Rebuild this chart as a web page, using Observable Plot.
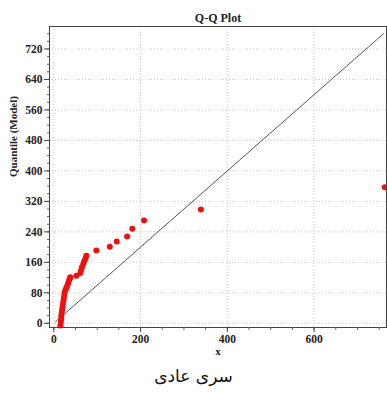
<!DOCTYPE html>
<html>
<head>
<meta charset="utf-8">
<script src="https://cdn.jsdelivr.net/npm/d3@7"></script>
<script src="https://cdn.jsdelivr.net/npm/@observablehq/plot@0.6"></script>
<style>
  html, body { margin: 0; padding: 0; background: #fff; }
  #chart svg { display: block; }
  #caption { width: 387px; text-align: center; font-family: "DejaVu Sans", "Noto Sans", sans-serif; font-size: 17px; color: #111; margin-top: 4px; direction: rtl; }
</style>
</head>
<body>
<div id="chart"></div>
<div id="caption">سری عادی</div>
<script>
// Empirical quantiles (x) vs model quantiles (y)
const xQuantile = [15,16,17,17,18,19,20,21,22,23,24,25,27,29,31,33,35,37,38,52,61,63,65,68,70,73,75,98,129,145,169,181,208,339,763];
const yModel    = [-6,2,10,18,26,34,42,50,58,66,74,82,88,93,99,105,112,118,121,125,132,140,148,156,163,170,177,191,201,215,228,248,270,299,357];
// Reference line y = x
const refLine = [4, 760];
const xTicks = [0, 200, 400, 600];
const yTicks = [0, 80, 160, 240, 320, 400, 480, 560, 640, 720];
const xMinorTicks = d3.range(0, 751, 50);
const yMinorTicks = d3.range(0, 761, 20);
const titleText = "Q-Q Plot";
const xLabel = "x";
const yLabel = "Quantile (Model)";

const points = xQuantile.map((x, i) => ({x, y: yModel[i]}));
const linePts = refLine.map(v => ({x: v, y: v}));

const serif = "'Liberation Serif', 'DejaVu Serif', serif";

const chart = Plot.plot({
  width: 387,
  height: 362,
  marginLeft: 49,
  marginRight: 1,
  marginTop: 26,
  marginBottom: 35,
  style: {fontFamily: serif, fontSize: "11px", fontWeight: "bold", color: "#222", background: "#fff"},
  x: {domain: [-10, 767]},
  y: {domain: [-11, 779]},
  marks: [
    Plot.gridX(xTicks, {stroke: "#bbb", strokeOpacity: 0.8, strokeDasharray: "1,2"}),
    Plot.gridY(yTicks, {stroke: "#bbb", strokeOpacity: 0.8, strokeDasharray: "1,2"}),
    Plot.line(linePts, {x: "x", y: "y", stroke: "#555", strokeWidth: 1}),
    Plot.dot(points, {x: "x", y: "y", r: 3, fill: "#f00f0f", stroke: "none"}),
    Plot.frame({stroke: "#444"}),
    Plot.axisX(xMinorTicks, {tickSize: 3, text: null, label: null, stroke: "#666"}),
    Plot.axisX(xTicks, {tickSize: 5, tickPadding: 2, label: null, stroke: "#444", fontWeight: "bold", fontSize: 11.5}),
    Plot.axisY(yMinorTicks, {tickSize: 2, text: null, label: null, stroke: "#666"}),
    Plot.axisY(yTicks, {tickSize: 5, tickPadding: 2, label: null, stroke: "#444", fontWeight: "bold", fontSize: 11.5}),
    Plot.text([titleText], {frameAnchor: "top", dy: -13, fontSize: 12, fontWeight: "bold", fill: "#222"}),
    Plot.text([xLabel], {frameAnchor: "bottom", dy: 27, fontSize: 11, fontWeight: "bold", fill: "#222"}),
    Plot.text([yLabel], {frameAnchor: "left", dx: -36, rotate: -90, fontSize: 11, fontWeight: "bold", fill: "#222"})
  ]
});
document.getElementById("chart").appendChild(chart);
</script>
</body>
</html>
